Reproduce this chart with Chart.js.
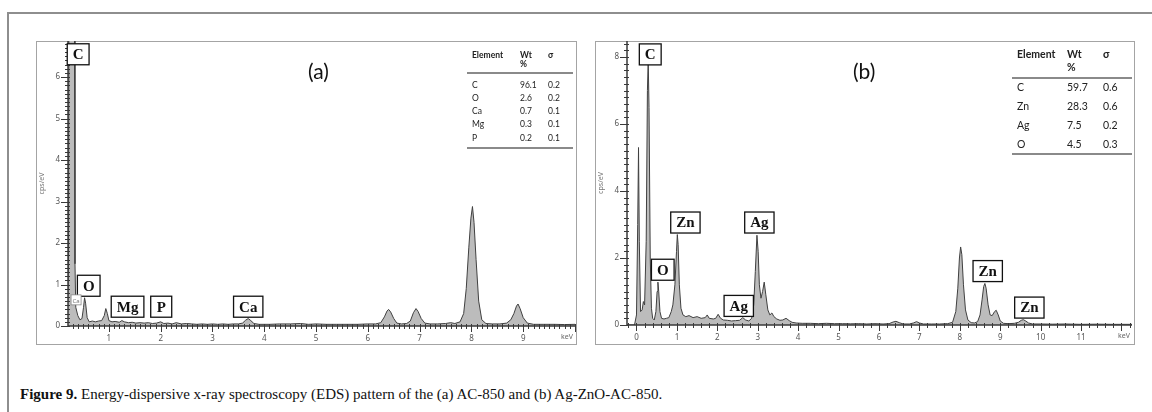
<!DOCTYPE html>
<html>
<head>
<meta charset="utf-8">
<script src="https://cdn.jsdelivr.net/npm/chart.js@4.4.1/dist/chart.umd.min.js"></script>
<style>
  body { margin: 0; background: #fff; width: 1152px; height: 412px; overflow: hidden; position: relative; }
  .abs { position: absolute; }
  #outer { left: 7px; top: 12px; width: 1150px; height: 410px; border-top: 2px solid #8e8e8e; border-left: 2px solid #8e8e8e; }
  .panel { border: 1px solid #a4a4a4; box-sizing: border-box; }
  .tag { font-family: Lato, "Noto Sans", sans-serif; font-size: 21px; color: #111; }
  .cell { font-family: Lato, "Noto Sans", sans-serif; color: #222; white-space: nowrap; }
  .rule { background: #8a8a8a; height: 2px; }
  #caption { left: 20px; top: 386px; font-family: "Liberation Serif", serif; font-size: 15px; color: #111; white-space: nowrap; }
</style>
</head>
<body>
<div id="outer" class="abs"></div>
<div class="abs panel" style="left:36px;top:41px;width:541px;height:304px;"></div>
<div class="abs panel" style="left:595px;top:41px;width:540px;height:304px;"></div>
<canvas id="chartA" class="abs" width="540" height="303" style="left:36px;top:41px;"></canvas>
<canvas id="chartB" class="abs" width="540" height="303" style="left:595px;top:41px;"></canvas>
<div class="abs tag" style="left:308px;top:58px;">(a)</div>
<div class="abs tag" style="left:853px;top:58px;">(b)</div>
<div id="caption" class="abs"><b>Figure 9.</b> Energy-dispersive x-ray spectroscopy (EDS) pattern of the (a) AC-850 and (b) Ag-ZnO-AC-850.</div>

<script>
// (a) AC-850 spectrum
const energyA = [0.20, 0.22, 0.23, 0.28, 0.33, 0.345, 0.36, 0.40, 0.44, 0.48, 0.51, 0.53, 0.55, 0.58, 0.62, 0.68, 0.74, 0.80, 0.86, 0.91, 0.94, 0.97, 1.00, 1.06, 1.12, 1.20, 1.25, 1.30, 1.38, 1.45, 1.52, 1.60, 1.68, 1.76, 1.84, 1.92, 2.00, 2.06, 2.14, 2.22, 2.30, 2.40, 2.50, 2.60, 2.70, 2.80, 2.90, 3.00, 3.10, 3.20, 3.30, 3.40, 3.50, 3.58, 3.64, 3.69, 3.74, 3.80, 3.90, 4.10, 4.30, 4.50, 4.70, 4.85, 5.00, 5.20, 5.40, 5.60, 5.80, 6.00, 6.15, 6.25, 6.32, 6.37, 6.40, 6.44, 6.50, 6.56, 6.65, 6.75, 6.82, 6.88, 6.93, 6.97, 7.03, 7.10, 7.20, 7.35, 7.50, 7.60, 7.68, 7.78, 7.85, 7.90, 7.95, 7.99, 8.02, 8.05, 8.09, 8.14, 8.20, 8.28, 8.40, 8.55, 8.68, 8.76, 8.82, 8.87, 8.90, 8.94, 9.00, 9.08, 9.20, 9.40, 9.60, 9.80, 10.0];
const countsA = [0.3, 1.5, 10, 12, 10, 1.5, 0.45, 0.25, 0.15, 0.18, 0.45, 0.68, 0.55, 0.2, 0.1, 0.12, 0.1, 0.12, 0.13, 0.25, 0.42, 0.3, 0.13, 0.1, 0.11, 0.09, 0.13, 0.1, 0.08, 0.09, 0.07, 0.08, 0.07, 0.08, 0.06, 0.07, 0.1, 0.06, 0.07, 0.05, 0.08, 0.05, 0.06, 0.05, 0.04, 0.05, 0.04, 0.05, 0.04, 0.05, 0.04, 0.05, 0.05, 0.07, 0.14, 0.18, 0.13, 0.06, 0.04, 0.04, 0.05, 0.05, 0.06, 0.04, 0.05, 0.04, 0.04, 0.04, 0.04, 0.05, 0.05, 0.08, 0.22, 0.36, 0.40, 0.34, 0.18, 0.07, 0.05, 0.06, 0.12, 0.32, 0.42, 0.35, 0.18, 0.07, 0.05, 0.05, 0.06, 0.08, 0.06, 0.1, 0.3, 0.9, 1.9, 2.6, 2.88, 2.5, 1.6, 0.6, 0.15, 0.06, 0.05, 0.05, 0.07, 0.15, 0.3, 0.48, 0.53, 0.42, 0.2, 0.07, 0.04, 0.04, 0.04, 0.035, 0.04];

// (b) Ag-ZnO-AC-850 spectrum
const energyB = [-0.24, -0.05, 0.00, 0.03, 0.05, 0.07, 0.10, 0.14, 0.17, 0.20, 0.24, 0.27, 0.29, 0.31, 0.34, 0.37, 0.40, 0.44, 0.48, 0.51, 0.53, 0.55, 0.58, 0.62, 0.68, 0.74, 0.80, 0.86, 0.90, 0.95, 0.99, 1.01, 1.03, 1.06, 1.10, 1.15, 1.22, 1.30, 1.40, 1.50, 1.60, 1.70, 1.75, 1.80, 1.90, 1.96, 2.02, 2.08, 2.15, 2.25, 2.35, 2.45, 2.55, 2.63, 2.70, 2.78, 2.85, 2.90, 2.94, 2.98, 3.01, 3.04, 3.08, 3.12, 3.16, 3.20, 3.25, 3.30, 3.35, 3.40, 3.47, 3.55, 3.62, 3.70, 3.78, 3.85, 3.95, 4.10, 4.30, 4.50, 4.70, 4.90, 5.10, 5.30, 5.50, 5.70, 5.90, 6.10, 6.25, 6.35, 6.42, 6.50, 6.60, 6.75, 6.85, 6.93, 7.00, 7.10, 7.30, 7.50, 7.70, 7.82, 7.90, 7.95, 7.99, 8.02, 8.05, 8.09, 8.14, 8.20, 8.28, 8.36, 8.44, 8.50, 8.55, 8.59, 8.62, 8.65, 8.70, 8.75, 8.80, 8.86, 8.90, 8.95, 9.00, 9.08, 9.20, 9.35, 9.45, 9.52, 9.57, 9.63, 9.70, 9.80, 10.0, 10.3, 10.6, 11.0, 11.4, 11.8, 12.3];
const countsB = [0, 0, 0.3, 3.0, 5.3, 2.5, 0.4, 0.45, 0.7, 0.6, 2.5, 7.0, 7.9, 6.5, 2.0, 0.5, 0.2, 0.15, 0.4, 1.0, 1.28, 1.0, 0.4, 0.2, 0.18, 0.2, 0.22, 0.4, 0.6, 1.2, 2.2, 2.7, 2.4, 1.2, 0.5, 0.3, 0.25, 0.28, 0.22, 0.25, 0.2, 0.22, 0.3, 0.2, 0.18, 0.2, 0.32, 0.2, 0.15, 0.14, 0.12, 0.13, 0.14, 0.22, 0.15, 0.12, 0.2, 0.6, 1.6, 2.68, 2.2, 1.2, 0.8, 1.0, 1.28, 0.9, 0.45, 0.3, 0.36, 0.25, 0.18, 0.14, 0.15, 0.2, 0.13, 0.08, 0.06, 0.05, 0.05, 0.04, 0.05, 0.04, 0.04, 0.035, 0.04, 0.03, 0.04, 0.03, 0.04, 0.09, 0.11, 0.07, 0.03, 0.03, 0.06, 0.1, 0.06, 0.03, 0.03, 0.03, 0.04, 0.08, 0.4, 1.1, 2.0, 2.33, 2.1, 1.2, 0.45, 0.15, 0.07, 0.06, 0.1, 0.3, 0.75, 1.15, 1.24, 1.1, 0.6, 0.3, 0.28, 0.4, 0.44, 0.3, 0.12, 0.05, 0.04, 0.05, 0.08, 0.14, 0.16, 0.12, 0.06, 0.03, 0.03, 0.025, 0.03, 0.02, 0.025, 0.02, 0.02];

// peak labels: text, energy (keV) and height (cps/eV) of the box centre
const labelsA = [
  { t: 'C', e: 0.406, v: 6.55 },
  { t: 'O', e: 0.61, v: 0.97 },
  { t: 'Mg', e: 1.36, v: 0.465 },
  { t: 'P', e: 2.01, v: 0.465 },
  { t: 'Ca', e: 3.69, v: 0.465 },
  { t: 'Ca', e: 0.366, v: 0.63, small: true }
];
const labelsB = [
  { t: 'C', e: 0.34, v: 8.08 },
  { t: 'Zn', e: 1.21, v: 3.06 },
  { t: 'Ag', e: 3.04, v: 3.06 },
  { t: 'O', e: 0.65, v: 1.65 },
  { t: 'Ag', e: 2.53, v: 0.57 },
  { t: 'Zn', e: 8.69, v: 1.61 },
  { t: 'Zn', e: 9.72, v: 0.52 }
];

// composition tables
const tableA = { el: ['C', 'O', 'Ca', 'Mg', 'P'], wt: ['96.1', '2.6', '0.7', '0.3', '0.2'], sig: ['0.2', '0.2', '0.1', '0.1', '0.1'] };
const tableB = { el: ['C', 'Zn', 'Ag', 'O'], wt: ['59.7', '28.3', '7.5', '4.5'], sig: ['0.6', '0.6', '0.2', '0.3'] };

// draws the dense tick marks, the peak label boxes and the keV unit
const edsPlugin = {
  id: 'eds',
  afterDatasetsDraw(chart, args, opts) {
    const ctx = chart.ctx, xs = chart.scales.x, ys = chart.scales.y;
    const area = chart.chartArea;
    const ay = ys.getPixelForValue(0), ax = area.left;
    ctx.save();
    ctx.strokeStyle = '#3a3a3a';
    ctx.lineWidth = 1;
    ctx.beginPath();
    let k = Math.ceil(xs.min / opts.xMinor - 1e-6);
    for (let v = k * opts.xMinor; v <= xs.max + 1e-6; k++, v = k * opts.xMinor) {
      const px = Math.round(xs.getPixelForValue(v)) + 0.5;
      const major = Math.abs(v - Math.round(v)) < 1e-6;
      ctx.moveTo(px, ay - 2);
      ctx.lineTo(px, ay + (major ? 6 : 3));
    }
    k = Math.ceil(ys.min / opts.yMinor - 1e-6);
    for (let v = k * opts.yMinor; v <= ys.max + 1e-6; k++, v = k * opts.yMinor) {
      const py = Math.round(ys.getPixelForValue(v)) + 0.5;
      const major = Math.abs(v - Math.round(v)) < 1e-6 && Math.round(v) % opts.yMajor === 0;
      ctx.moveTo(ax + 2, py);
      ctx.lineTo(ax - (major ? 7 : 3), py);
    }
    ctx.stroke();
    ctx.lineWidth = 1.5;
    ctx.beginPath();
    ctx.moveTo(ax, area.top);
    ctx.lineTo(ax, ay);
    ctx.lineTo(area.right, ay);
    ctx.stroke();

    opts.labels.forEach(l => {
      const cx = xs.getPixelForValue(l.e), cy = ys.getPixelForValue(l.v);
      if (l.small) {
        ctx.font = '6px "Noto Sans", sans-serif';
        ctx.fillStyle = '#fff';
        ctx.strokeStyle = '#888';
        ctx.lineWidth = 0.8;
        ctx.fillRect(cx - 5, cy - 5, 10, 10);
        ctx.strokeRect(cx - 5, cy - 5, 10, 10);
        ctx.fillStyle = '#777';
      } else {
        ctx.font = 'bold 15px "Liberation Serif", serif';
        const w = Math.max(21, ctx.measureText(l.t).width + 11), h = 21;
        ctx.fillStyle = '#fff';
        ctx.strokeStyle = '#111';
        ctx.lineWidth = 1.3;
        ctx.fillRect(cx - w / 2, cy - h / 2, w, h);
        ctx.strokeRect(cx - w / 2, cy - h / 2, w, h);
        ctx.fillStyle = '#111';
      }
      ctx.textAlign = 'center';
      ctx.textBaseline = 'middle';
      ctx.fillText(l.t, cx, cy + 1);
    });

    ctx.font = '7px "Noto Sans", sans-serif';
    ctx.fillStyle = '#666';
    ctx.textAlign = 'right';
    ctx.textBaseline = 'middle';
    ctx.fillText('keV', area.right - 2, ay + 11);
    ctx.restore();
  }
};

function makeChart(id, energy, counts, o) {
  const pts = energy.map((e, i) => ({ x: e, y: counts[i] }));
  return new Chart(document.getElementById(id), {
    type: 'line',
    data: {
      datasets: [{
        data: pts,
        borderColor: '#404040',
        borderWidth: 1,
        backgroundColor: '#bcbcbc',
        fill: 'origin',
        pointRadius: 0,
        tension: 0
      }]
    },
    options: {
      responsive: false,
      animation: false,
      layout: { padding: { top: 0, right: o.padRight, left: 0, bottom: 0 } },
      plugins: {
        legend: { display: false },
        tooltip: { enabled: false },
        eds: { xMinor: o.xMinor, yMinor: o.yMinor, yMajor: o.yMajor, labels: o.labels }
      },
      scales: {
        x: {
          type: 'linear',
          min: o.xMin, max: o.xMax,
          grid: { display: false, drawTicks: false },
          border: { display: false },
          ticks: {
            stepSize: 1, includeBounds: false, padding: 8,
            color: '#555', font: { size: 8, family: '"Noto Sans", sans-serif' },
            maxRotation: 0, autoSkip: false,
            callback: v => (Number.isInteger(v) && v <= o.lastLabel) ? String(v) : ''
          },
          afterFit: s => { s.height = o.xHeight; s.paddingLeft = 0; s.paddingRight = 0; }
        },
        y: {
          min: 0, max: o.yMax,
          grid: { display: false, drawTicks: false },
          border: { display: false },
          title: { display: true, text: 'cps/eV', color: '#777', padding: { top: 2, bottom: 0 }, font: { size: 7, family: '"Noto Sans", sans-serif' } },
          ticks: {
            stepSize: o.yMajor, includeBounds: false, padding: 8,
            color: '#555', font: { size: 8, family: '"Noto Sans", sans-serif' },
            callback: v => Number.isInteger(v) ? String(v) : ''
          },
          afterFit: s => { s.width = 32; s.paddingTop = 0; s.paddingBottom = 0; }
        }
      }
    },
    plugins: [edsPlugin]
  });
}

makeChart('chartA', energyA, countsA, {
  xMin: 0.21, xMax: 10.0, yMax: 6.87, xMinor: 0.1, yMinor: 0.1, yMajor: 1,
  lastLabel: 9, xHeight: 18, padRight: 1, labels: labelsA
});
makeChart('chartB', energyB, countsB, {
  xMin: -0.235, xMax: 12.26, yMax: 8.48, xMinor: 0.2, yMinor: 0.2, yMajor: 2,
  lastLabel: 11, xHeight: 19, padRight: 3, labels: labelsB
});

// composition tables as text
function makeTable(t, o) {
  const add = (txt, x, y, bold) => {
    const d = document.createElement('div');
    d.className = 'abs cell';
    d.style.left = x + 'px';
    d.style.top = (y - o.fs * 0.6) + 'px';
    d.style.fontSize = o.fs + 'px';
    d.style.lineHeight = (o.fs * 1.2) + 'px';
    if (bold) d.style.fontWeight = 'bold';
    d.textContent = txt;
    document.body.appendChild(d);
  };
  add('Element', o.cols[0], o.headY, true);
  add('Wt', o.cols[1], o.headY, true);
  add('%', o.cols[1], o.pctY, true);
  add('σ', o.cols[2], o.headY, true);
  t.el.forEach((el, i) => {
    add(el, o.cols[0], o.rowY[i]);
    add(t.wt[i], o.cols[1], o.rowY[i]);
    add(t.sig[i], o.cols[2], o.rowY[i]);
  });
  o.lines.forEach(y => {
    const r = document.createElement('div');
    r.className = 'abs rule';
    r.style.left = o.x0 + 'px';
    r.style.top = y + 'px';
    r.style.width = (o.x1 - o.x0) + 'px';
    document.body.appendChild(r);
  });
}
makeTable(tableA, { fs: 8.5, cols: [472, 520, 548], headY: 55, pctY: 64, rowY: [85, 98, 111.5, 124.5, 138], lines: [72, 147], x0: 467, x1: 573 });
makeTable(tableB, { fs: 10.5, cols: [1017, 1067, 1103], headY: 54, pctY: 67, rowY: [87, 106, 125, 144], lines: [77, 153], x0: 1012, x1: 1132 });
</script>
</body>
</html>
